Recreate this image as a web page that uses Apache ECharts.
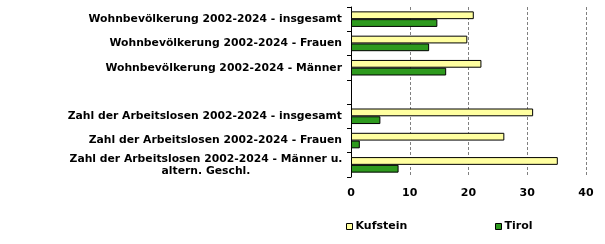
<!DOCTYPE html>
<html>
<head>
<meta charset="utf-8">
<script src="https://cdn.jsdelivr.net/npm/echarts@6/dist/echarts.min.js"></script>
<style>html,body{margin:0;padding:0;background:#fff;}#c{width:605px;height:244px;}</style>
</head>
<body>
<div id="c"></div>
<script>
var categories = [
  'Wohnbevölkerung 2002-2024 - insgesamt',
  'Wohnbevölkerung 2002-2024 - Frauen',
  'Wohnbevölkerung 2002-2024 - Männer',
  '',
  'Zahl der Arbeitslosen 2002-2024 - insgesamt',
  'Zahl der Arbeitslosen 2002-2024 - Frauen',
  'Zahl der Arbeitslosen 2002-2024 - Männer u.\naltern. Geschl.'
];
var kufstein = [20.9, 19.8, 22.2, null, 31.0, 26.1, 35.2];
var tirol = [14.7, 13.3, 16.2, null, 5.0, 1.5, 8.1];
var xTicks = [0, 10, 20, 30, 40];

var font = 'DejaVu Sans';
var fs = 10.8;
var chart = echarts.init(document.getElementById('c'), null, {renderer: 'canvas'});
chart.setOption({
  animation: false,
  backgroundColor: '#fff',
  textStyle: {fontFamily: font},
  grid: {left: 351, top: 7, width: 235, height: 170, containLabel: false},
  legend: [
    {data: ['Kufstein'], icon: 'rect', left: 341, top: 216, itemWidth: 6, itemHeight: 6, itemGap: 2,
     itemStyle: {borderWidth: 1, borderColor: '#000'},
     textStyle: {fontFamily: font, fontWeight: 'bold', fontSize: 11, color: '#000', padding: [0,0,0,-2]}},
    {data: ['Tirol'], icon: 'rect', left: 490, top: 216, itemWidth: 6, itemHeight: 6, itemGap: 2,
     itemStyle: {borderWidth: 1, borderColor: '#000'},
     textStyle: {fontFamily: font, fontWeight: 'bold', fontSize: 11, color: '#000', padding: [0,0,0,-2]}}
  ],
  xAxis: {
    type: 'value', min: xTicks[0], max: xTicks[xTicks.length - 1], interval: 10,
    axisLine: {show: false}, axisTick: {show: false},
    splitLine: {show: true, lineStyle: {color: '#808080', type: [3, 2], width: 1}},
    axisLabel: {fontFamily: font, fontWeight: 'bold', fontSize: 11, color: '#000', margin: 11}
  },
  yAxis: {
    type: 'category', data: categories, inverse: true,
    axisLine: {show: true, lineStyle: {color: '#000', width: 1}},
    axisTick: {show: true, length: 4, lineStyle: {color: '#000'}},
    axisLabel: {
      fontFamily: font, fontWeight: 'bold', fontSize: fs, color: '#000', margin: 9, lineHeight: 12,
      formatter: function (v) {
        if (v.indexOf('\n') >= 0) {
          var p = v.split('\n');
          return '{c|' + p[0] + '}\n{c|' + p[1] + '}';
        }
        return v;
      },
      rich: {c: {fontFamily: font, fontWeight: 'bold', fontSize: fs, color: '#000', width: 272, align: 'center', lineHeight: 12}}
    }
  },
  series: [
    {name: 'Kufstein', type: 'bar', data: kufstein, barGap: '0%', barCategoryGap: '36%',
     itemStyle: {color: '#FFFFA0', borderColor: '#000', borderWidth: 1}},
    {name: 'Tirol', type: 'bar', data: tirol,
     itemStyle: {color: '#2E9A1E', borderColor: '#000', borderWidth: 1}}
  ]
});
</script>
</body>
</html>
